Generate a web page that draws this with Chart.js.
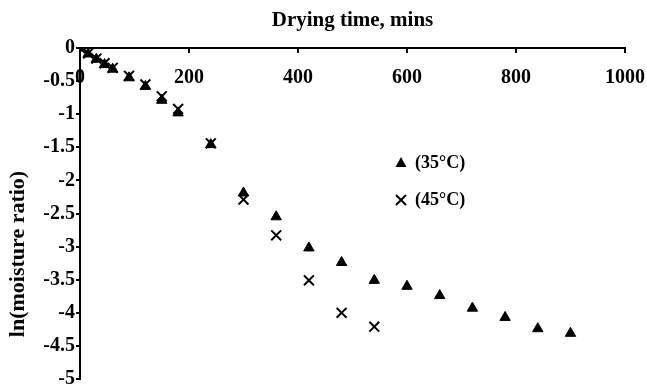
<!DOCTYPE html>
<html>
<head>
  <meta charset="utf-8">
  <title>ln(moisture ratio) vs drying time</title>
  <script src="https://cdn.jsdelivr.net/npm/chart.js"></script>
  <style>
    body {
      margin: 0;
      background: #fff;
    }
  </style>
</head>
<body>
<canvas id="dryChart" width="647" height="388"></canvas>

<script>
  // drying times (mins) and ln(MR)
  const times35 = [0, 15, 30, 45, 60, 90, 120, 150, 180, 240, 300, 360, 420, 480, 540, 600, 660, 720, 780, 840, 900];
  const lnMR35 = [0, -0.09, -0.17, -0.25, -0.32, -0.45, -0.58, -0.79, -0.98, -1.46, -2.19, -2.55, -3.02, -3.24, -3.51, -3.6, -3.74, -3.93, -4.07, -4.24, -4.31];

  const times45 = [0, 15, 30, 45, 60, 90, 120, 150, 180, 240, 300, 360, 420, 480, 540];
  const lnMR45 = [0, -0.08, -0.16, -0.23, -0.3, -0.42, -0.55, -0.73, -0.92, -1.44, -2.29, -2.83, -3.51, -4.0, -4.21];

  const xTicks = [0, 200, 400, 600, 800, 1000];
  const yTicks = [0, -0.5, -1, -1.5, -2, -2.5, -3, -3.5, -4, -4.5, -5];
  const legendLabels = ['(35\u00B0C)', '(45\u00B0C)'];

  const serif = "'Liberation Serif', 'Times New Roman', serif";

  function toPoints(xs, ys) {
    return xs.map(function(x, i) { return {x: x, y: ys[i]}; });
  }

  // y title and legend are placed by hand, like the original
  const extrasPlugin = {
    id: 'extras',
    afterDraw: function(chart) {
      const ctx = chart.ctx;
      ctx.save();
      ctx.fillStyle = '#000';
      ctx.strokeStyle = '#000';

      // y axis title
      ctx.save();
      ctx.translate(18, 254);
      ctx.rotate(-Math.PI / 2);
      ctx.font = 'bold 22px ' + serif;
      ctx.textAlign = 'center';
      ctx.textBaseline = 'middle';
      ctx.fillText('ln(moisture ratio)', 0, 0);
      ctx.restore();

      // legend
      const lx = 401, ly = [163, 200];
      ctx.beginPath();
      ctx.moveTo(lx, ly[0] - 6);
      ctx.lineTo(lx + 5.5, ly[0] + 4);
      ctx.lineTo(lx - 5.5, ly[0] + 4);
      ctx.closePath();
      ctx.fill();
      ctx.lineWidth = 2;
      ctx.beginPath();
      ctx.moveTo(lx - 5, ly[1] - 5);
      ctx.lineTo(lx + 5, ly[1] + 5);
      ctx.moveTo(lx + 5, ly[1] - 5);
      ctx.lineTo(lx - 5, ly[1] + 5);
      ctx.stroke();

      ctx.font = 'bold 18px ' + serif;
      ctx.textAlign = 'left';
      ctx.textBaseline = 'middle';
      ctx.fillText(legendLabels[0], 415, ly[0]);
      ctx.fillText(legendLabels[1], 415, ly[1]);
      ctx.restore();
    }
  };

  const ctxDry = document.getElementById('dryChart').getContext('2d');
  const dryChart = new Chart(ctxDry, {
    type: 'scatter',
    data: {
      datasets: [
        {
          label: legendLabels[0],
          data: toPoints(times35, lnMR35),
          pointStyle: 'triangle',
          pointRadius: 6,
          backgroundColor: '#000',
          borderColor: '#000',
          borderWidth: 1
        },
        {
          label: legendLabels[1],
          data: toPoints(times45, lnMR45),
          pointStyle: 'crossRot',
          pointRadius: 7,
          backgroundColor: '#000',
          borderColor: '#000',
          borderWidth: 2
        }
      ]
    },
    options: {
      responsive: false,
      animation: false,
      layout: {
        padding: {left: 0, right: 22, top: 0, bottom: 7}
      },
      plugins: {
        legend: {display: false},
        tooltip: {enabled: false}
      },
      scales: {
        x: {
          type: 'linear',
          position: 'top',
          min: 0,
          max: 1000,
          afterFit: function(scale) {
            scale.height = 48;
            scale.paddingLeft = 0;
            scale.paddingRight = 0;
          },
          afterBuildTicks: function(scale) {
            scale.ticks = xTicks.map(function(v) { return {value: v}; });
          },
          ticks: {
            autoSkip: false,
            maxRotation: 0,
            mirror: true,
            padding: 18,
            color: '#000',
            font: {family: serif, size: 20, weight: 'bold'},
            callback: function(v) { return String(v); }
          },
          grid: {
            drawOnChartArea: false,
            drawTicks: true,
            tickLength: -5,
            color: '#000',
            lineWidth: 2
          },
          border: {color: '#000', width: 2},
          title: {
            display: true,
            text: 'Drying time, mins',
            color: '#000',
            padding: {top: 8, bottom: 0},
            font: {family: serif, size: 21, weight: 'bold'}
          }
        },
        y: {
          type: 'linear',
          position: 'left',
          min: -5,
          max: 0,
          afterFit: function(scale) {
            scale.width = 80;
            scale.paddingTop = 0;
            scale.paddingBottom = 0;
          },
          afterBuildTicks: function(scale) {
            scale.ticks = yTicks.map(function(v) { return {value: v}; });
          },
          ticks: {
            autoSkip: false,
            padding: 1,
            color: '#000',
            font: {family: serif, size: 20, weight: 'bold'},
            callback: function(v) { return String(v); }
          },
          grid: {
            drawOnChartArea: false,
            drawTicks: true,
            tickLength: 4,
            color: '#000',
            lineWidth: 2
          },
          border: {color: '#000', width: 2}
        }
      }
    },
    plugins: [extrasPlugin]
  });
</script>
</body>
</html>
